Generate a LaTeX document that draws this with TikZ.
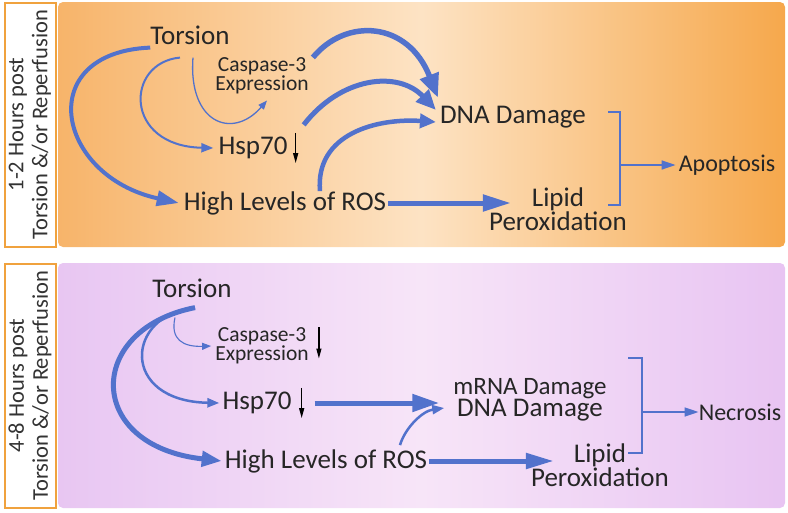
\documentclass[tikz,border=0pt]{standalone}
\usepackage{fontspec}
\setmainfont{Carlito}
\usetikzlibrary{arrows.meta,positioning}

\definecolor{linkblue}{RGB}{82,114,204}
\definecolor{boxorange}{RGB}{240,162,62}
\definecolor{orangeleft}{RGB}{247,180,106}
\definecolor{orangemid}{RGB}{253,227,196}
\definecolor{orangeright}{RGB}{246,168,76}
\definecolor{purpleleft}{RGB}{232,198,242}
\definecolor{purplemid}{RGB}{247,229,248}
\definecolor{purpleright}{RGB}{232,196,242}

\begin{document}
\begin{tikzpicture}[x=1pt,y=-1pt]
	\useasboundingbox (0,0) rectangle (788,512);
	
	\tikzstyle{label box}=[draw=boxorange,line width=2pt,fill=white,rotate=90,minimum width=244pt,minimum height=51pt,inner sep=0pt,align=center,text=black!80,font=\fontsize{22.5}{24}\selectfont]
	\tikzstyle{panel}=[rounded corners=5pt,minimum width=727pt,minimum height=245pt,inner sep=0pt]
	\tikzstyle{term}=[inner sep=0pt,text=black!85,font=\fontsize{27}{29}\selectfont]
	\tikzstyle{two line term}=[term,align=center,font=\fontsize{27}{22}\selectfont]
	\tikzstyle{small term}=[term,align=center,font=\fontsize{21.5}{18}\selectfont]
	\tikzstyle{end term}=[term,font=\fontsize{24}{26}\selectfont]
	\tikzstyle{link}=[draw=linkblue]
	\tikzstyle{big link}=[link,line width=5pt,-{Triangle[length=22pt,width=17pt]}]
	\tikzstyle{mid link}=[link,line width=2pt,-{Triangle[length=12pt,width=9pt]}]
	\tikzstyle{thin link}=[link,line width=1.3pt,-{Triangle[length=9pt,width=7pt]}]
	\tikzstyle{bracket}=[link,line width=1.6pt]
	\tikzstyle{down arrow}=[draw=black,line width=1.2pt,-{Triangle[length=10pt,width=5pt]}]
	
	% Draw the two panels and their time labels
	\node[panel,left color=orangeleft,right color=orangeright,middle color=orangemid] (P-1) at (421.5,124.5) {};
	\node[panel,left color=purpleleft,right color=purpleright,middle color=purplemid] (P-2) at (421.5,385.5) {};
	\foreach \name / \y / \hrs in {1/124.5/1-2, 2/385.5/4-8}
	\node[label box] (L-\name) at (30,\y) {\hrs\ Hours post\\Torsion \&/or Reperfusion};
	
	% Early stage (1-2 hours)
	\node[term] (tor1) at (190,35) {Torsion};
	\node[small term] (casp1) at (262,76) {Caspase-3\\Expression};
	\node[term] (hsp1) at (253,148) {Hsp70};
	\node[term] (ros1) at (285,203) {High Levels of ROS};
	\node[term] (dna1) at (513,117) {DNA Damage};
	\node[two line term] (lip1) at (558,209) {Lipid\\Peroxidation};
	\node[end term] (apo1) at (727,165) {Apoptosis};
	
	\draw[down arrow] ([shift={(8,-4)}]hsp1.north east) -- ([shift={(8,4)}]hsp1.south east);
	
	\draw[link,line width=4pt,-{Triangle[length=22pt,width=15pt]}] ([yshift=-3pt]tor1.south west) .. controls +(-118,5) and +(-123,-27) .. ([xshift=-5pt]ros1.west);
	\draw[mid link] ([shift={(-10,13)}]tor1.south) .. controls +(-55,5) and +(-90,-2) .. ([xshift=-5pt]hsp1.west);
	\draw[thin link] ([shift={(3,13)}]tor1.south) .. controls +(-5,65) and +(-35,40) .. ([shift={(5,6)}]casp1.south);
	\draw[big link,line width=5.5pt,-{Triangle[length=24pt,width=19pt]}] ([xshift=4pt]casp1.north east) .. controls +(33,-40) and +(-30,-77) .. ([shift={(-2,-8)}]dna1.north west);
	\draw[big link,-{Triangle[length=20pt,width=17pt]}] ([shift={(16,-12)}]hsp1.north east) .. controls +(37,-48) and +(-38,-40) .. ([shift={(-4,-7)}]dna1.west);
	\draw[big link,line width=4.5pt,-{Triangle[length=16pt,width=14pt]}] ([xshift=35pt]ros1.north) .. controls +(-5,-58) and +(-58,-4) .. ([shift={(-4,5)}]dna1.west);
	\draw[big link,-{Triangle[length=28pt,width=16pt]}] ([xshift=2pt]ros1.east) -- ([xshift=22pt]lip1.west |- ros1.east);
	
	\coordinate (bt1) at (608,112);
	\coordinate (bb1) at (608,205);
	\coordinate (bm1) at (620,165);
	\draw[bracket] (bt1) -- ++(12,0) |- (bb1);
	\draw[bracket,-{Triangle[length=14pt,width=9pt]}] (bm1) -- ([xshift=-3pt]apo1.west);
	
	% Late stage (4-8 hours)
	\node[term] (tor2) at (192,288) {Torsion};
	\node[small term] (casp2) at (262,346) {Caspase-3\\Expression};
	\node[term] (hsp2) at (257,403) {Hsp70};
	\node[term] (ros2) at (326,461) {High Levels of ROS};
	\node[two line term] (dmg2) at (530,400) {{\fontsize{25}{22}\selectfont mRNA Damage}\\DNA Damage};
	\node[two line term] (lip2) at (600,465) {Lipid\\Peroxidation};
	\node[end term] (nec2) at (740,412) {Necrosis};
	
	\draw[down arrow] ([shift={(10,0)}]casp2.north east) -- ([shift={(10,-6)}]casp2.south east);
	\draw[down arrow] ([shift={(10,-4)}]hsp2.north east) -- ([shift={(10,4)}]hsp2.south east);
	
	\draw[big link,-{Triangle[length=20pt,width=15pt]}] ([shift={(3,10)}]tor2.south) .. controls +(-110,22) and +(-137,-15) .. ([xshift=-3pt]ros2.west);
	\draw[mid link,line width=2.5pt] ([shift={(3,10)}]tor2.south) .. controls +(-70,7) and +(-100,-2) .. ([xshift=-3pt]hsp2.west);
	\draw[thin link,line width=1.1pt] ([shift={(-17,20)}]tor2.south) .. controls +(-5,22) and +(-28,1) .. ([xshift=-4pt]casp2.west);
	\draw[big link,-{Triangle[length=27pt,width=17pt]},shorten >=14pt] ([xshift=23pt]hsp2.east) -- (hsp2.east -| dmg2.west);
	\draw[mid link,line width=2.5pt] ([shift={(74,-4)}]ros2.north) .. controls +(5,-17) and +(-22,3) .. ([shift={(-9,8)}]dmg2.west);
	\draw[big link,-{Triangle[length=28pt,width=15pt]}] ([xshift=2pt]ros2.east) -- ([xshift=23pt]lip2.west |- ros2.east);
	
	\coordinate (bt2) at (628,358);
	\coordinate (bb2) at (628,453);
	\coordinate (bm2) at (642,412);
	\draw[bracket] (bt2) -- ++(14,0) |- (bb2);
	\draw[bracket,-{Triangle[length=14pt,width=9pt]}] (bm2) -- (nec2.west);
\end{tikzpicture}
\end{document}
